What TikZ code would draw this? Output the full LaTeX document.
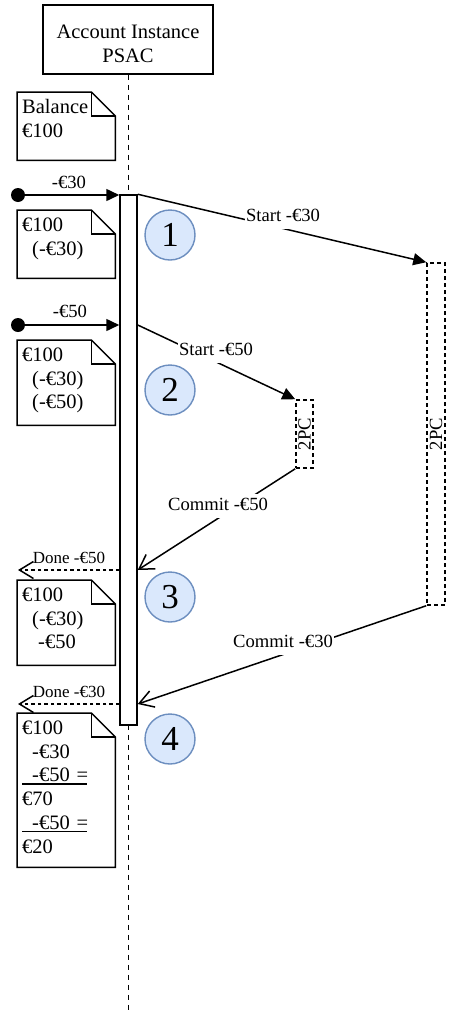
\documentclass[tikz,border=0pt]{standalone}
\usepackage{fontspec}
\setmainfont{Liberation Serif}
\usepackage{graphicx}
\usetikzlibrary{arrows.meta}
\definecolor{circfill}{HTML}{DAE8FC}
\definecolor{circline}{HTML}{6C8EBF}
\newcommand{\fhdr}{\fontsize{20.5}{24.5}\selectfont}
\newcommand{\fnote}{\fontsize{20.5}{23.8}\selectfont}
\newcommand{\flab}{\fontsize{18.6}{22}\selectfont}
\newcommand{\fdone}{\fontsize{17}{20}\selectfont}
\newcommand{\fnum}{\fontsize{35}{40}\selectfont}
\newcommand{\ulline}[1]{\leavevmode\rlap{\rule[-3pt]{65pt}{1.8pt}}\hspace*{10pt}#1}
\newcommand{\notedraw}[1]{%
  \draw[noteline] (#1.north west) -- ([xshift=-24pt]#1.north east) -- ([yshift=-24pt]#1.north east) -- (#1.south east) -- (#1.south west) -- cycle;
  \draw[noteline] ([xshift=-24pt]#1.north east) -- ([xshift=-24pt,yshift=-24pt]#1.north east) -- ([yshift=-24pt]#1.north east);}
\tikzset{
  hdrbox/.style={draw, line width=1.5pt, minimum width=170pt, minimum height=69pt, align=center, font=\fhdr, inner sep=0pt},
  lifeline/.style={line width=1.8pt, dash pattern=on 5pt off 5pt},
  actbar/.style={draw, fill=white, line width=1.5pt, minimum width=17pt, minimum height=530pt, inner sep=0pt},
  notebox/.style={anchor=north west, text width=88pt, inner xsep=5pt, inner ysep=0pt, text height=21pt, font=\fnote, align=left},
  noteline/.style={line width=1.5pt, line join=miter},
  numcirc/.style={circle, draw=circline, fill=circfill, line width=1.4pt, minimum size=50pt, inner sep=0pt, font=\fnum},
  pcbox/.style={draw, dash pattern=on 4pt off 3pt, line width=1.5pt, inner sep=0pt, font=\flab},
  dotst/.style={circle, fill=black, minimum size=14pt, inner sep=0pt},
  msg/.style={line width=1.5pt, -{Triangle[length=13pt,width=12pt]}},
  reply/.style={line width=1.5pt, -{Straight Barb[length=14pt,width=17pt]}},
  donemsg/.style={line width=1.5pt, dash pattern=on 3.5pt off 3pt, -{Straight Barb[length=14pt,width=17pt]}},
  elab/.style={anchor=base, fill=white, font=\flab, inner xsep=1pt, inner ysep=2pt, text height=14pt, text depth=5.6pt},
  plab/.style={anchor=base, font=\flab, inner sep=0pt},
  dlab/.style={anchor=base, font=\fdone, inner sep=0pt}
}
\begin{document}
\begin{tikzpicture}[x=1pt,y=-1pt]
\useasboundingbox (0,0) rectangle (448,1015);
% header and lifeline
\node[hdrbox] (hdr) at (128,39.5) {\rule{0pt}{22pt}Account Instance\\PSAC};
\coordinate (lifeend) at (128.5,1013);
\draw[lifeline] (hdr.south -| lifeend) -- (lifeend);
\node[actbar] (bar) at (128.5,460) {};
% notes
\node[notebox, text depth=47pt] (n1) at (17,92) {Balance\\€100};
\notedraw{n1}
\node[notebox, text depth=47pt] (n2) at (17,210) {€100\\\hspace*{10pt}(-€30)};
\notedraw{n2}
\node[notebox, text depth=64pt] (n3) at (17,340) {€100\\\hspace*{10pt}(-€30)\\\hspace*{10pt}(-€50)};
\notedraw{n3}
\node[notebox, text depth=64pt] (n4) at (17,580) {€100\\\hspace*{10pt}(-€30)\\\hspace*{16pt}-€50};
\notedraw{n4}
\node[notebox, text depth=133pt] (n5) at (17,713) {€100\\\hspace*{10pt}-€30\\\ulline{-€50 =}\\€70\\\ulline{-€50 =}\\€20};
\notedraw{n5}
% step circles
\node[numcirc] (c1) at (170,235) {1};
\node[numcirc] (c2) at (170,390) {2};
\node[numcirc] (c3) at (170,597) {3};
\node[numcirc] (c4) at (170,739) {4};
% 2PC boxes
\node[pcbox, minimum width=18pt, minimum height=342pt] (pc1) at (436,434) {\rotatebox{90}{2PC}};
\node[pcbox, minimum width=17pt, minimum height=68pt] (pc2) at (304.5,434) {\rotatebox{90}{2PC}};
% found messages
\node[dotst] (d1) at (18,195) {};
\node[dotst] (d2) at (18,325) {};
\coordinate (e1) at (18,570);
\coordinate (e2) at (18,704);
\draw[msg] (d1) -- (d1 -| bar.west);
\draw[msg] (d2) -- (d2 -| bar.west);
\draw[msg] (bar.north east) -- (pc1.north west);
\draw[msg] (d2 -| bar.east) -- (pc2.north west);
\draw[reply] (pc2.south west) -- (e1 -| bar.east);
\draw[donemsg] (e1 -| bar.west) -- (e1);
\draw[reply] (pc1.south west) -- (e2 -| bar.east);
\draw[donemsg] (e2 -| bar.west) -- (e2);
% labels
\node[elab] (l1) at (283,221) {Start -€30};
\node[elab] (l2) at (216,355) {Start -€50};
\node[elab] (l3) at (218,510) {Commit -€50};
\node[elab] (l4) at (283,647) {Commit -€30};
\node[plab] (l5) at (69,188) {-€30};
\node[plab] (l6) at (70,317) {-€50};
\node[dlab] (l7) at (69,563) {Done -€50};
\node[dlab] (l8) at (69,697) {Done -€30};
\end{tikzpicture}
\end{document}
